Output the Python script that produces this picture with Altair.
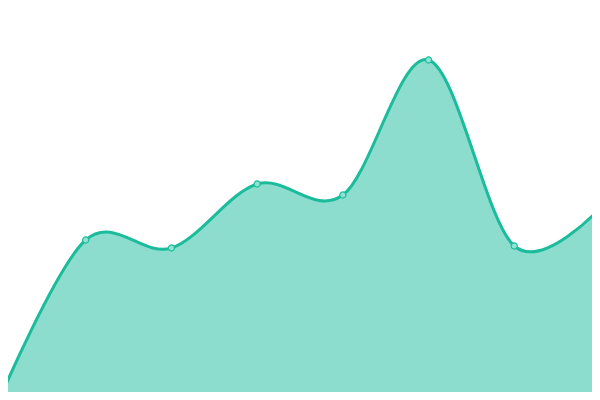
import altair as alt
import pandas as pd

categories = ["A", "B", "C", "D", "E", "F", "G", "H"]
values = [2, 160, 152, 216, 205, 340, 154, 192]

df = pd.DataFrame({"cat": categories, "value": values})

# the page has an 8px margin; the reference plot runs to the window edges,
# so the scale ranges extend 8px beyond the drawing area on every side
x = alt.X("cat:N", sort=categories, axis=None,
          scale=alt.Scale(type="point", padding=0, range=[-8, 592]))
y = alt.Y("value:Q", axis=None,
          scale=alt.Scale(domain=[0, 400], nice=False, zero=True, range=[392, -8]))

base = alt.Chart(df).encode(x=x, y=y)

area = base.mark_area(interpolate="cardinal", color="#1abc9c", opacity=0.5)
line = base.mark_line(interpolate="cardinal", color="#1abc9c", strokeWidth=3)
pts = base.mark_point(filled=True, size=38, fill="#8fe3d3", stroke="#1abc9c",
                      strokeWidth=1.2, opacity=1)

chart = (area + line + pts).properties(
    width=584, height=384,
    autosize=alt.AutoSizeParams(type="none"),
    padding=0,
).configure_view(stroke=None)

chart.save("out.html", embed_options={"renderer": "svg", "actions": False})
